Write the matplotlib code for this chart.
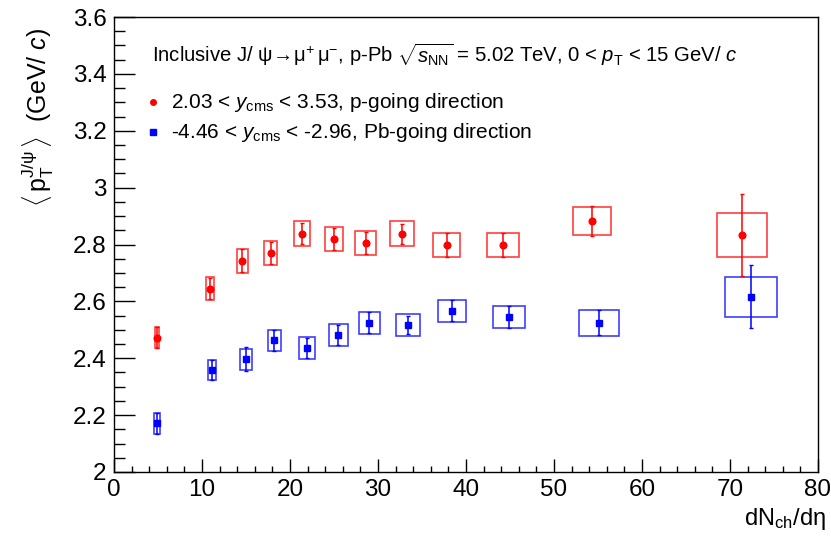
import matplotlib
matplotlib.use('Agg')
import matplotlib.pyplot as plt
from matplotlib.patches import Rectangle
from matplotlib.lines import Line2D
from matplotlib.ticker import MultipleLocator

plt.rcParams['font.family'] = ['Liberation Sans', 'DejaVu Sans']
plt.rcParams['mathtext.fontset'] = 'custom'
plt.rcParams['mathtext.rm'] = 'Liberation Sans'
plt.rcParams['mathtext.it'] = 'Liberation Sans:italic'
plt.rcParams['mathtext.bf'] = 'Liberation Sans:bold'

# ---------------- data ----------------
red_x = [4.9, 10.9, 14.6, 17.8, 21.4, 25.0, 28.6, 32.7, 37.8, 44.2, 54.3, 71.4]
red_y = [2.472, 2.645, 2.743, 2.771, 2.838, 2.819, 2.804, 2.838, 2.798, 2.798, 2.883, 2.833]
red_stat = [0.037, 0.038, 0.041, 0.038, 0.037, 0.039, 0.039, 0.035, 0.042, 0.042, 0.053, 0.145]
red_syst = [0.037, 0.039, 0.042, 0.042, 0.043, 0.042, 0.042, 0.043, 0.043, 0.043, 0.050, 0.077]
red_xerr = [0.27, 0.45, 0.59, 0.72, 0.89, 0.98, 1.16, 1.35, 1.55, 1.80, 2.18, 2.86]

blue_x = [4.9, 11.15, 15.0, 18.2, 21.9, 25.5, 29.0, 33.4, 38.4, 44.9, 55.1, 72.4]
blue_y = [2.171, 2.359, 2.396, 2.463, 2.436, 2.482, 2.525, 2.518, 2.567, 2.544, 2.525, 2.616]
blue_stat = [0.036, 0.035, 0.042, 0.038, 0.036, 0.036, 0.037, 0.031, 0.037, 0.038, 0.044, 0.111]
blue_syst = [0.036, 0.036, 0.037, 0.038, 0.038, 0.038, 0.039, 0.039, 0.039, 0.039, 0.045, 0.071]
blue_xerr = [0.32, 0.49, 0.64, 0.74, 0.89, 1.04, 1.19, 1.38, 1.59, 1.82, 2.24, 2.92]

x_ticks = [0, 10, 20, 30, 40, 50, 60, 70, 80]
y_ticks = [2.0, 2.2, 2.4, 2.6, 2.8, 3.0, 3.2, 3.4, 3.6]
y_ticklabels = ['2', '2.2', '2.4', '2.6', '2.8', '3', '3.2', '3.4', '3.6']

red_label = r'2.03 < $y_{\mathrm{cms}}$ < 3.53, p-going direction'
blue_label = r'-4.46 < $y_{\mathrm{cms}}$ < -2.96, Pb-going direction'
header = (r'Inclusive J/ $\mathrm{\psi\!\rightarrow\!\mu^{+}\,\mu^{-}}$, p-Pb '
          r'$\sqrt{s_{\mathrm{NN}}}$ = 5.02 TeV, 0 < $p_{\mathrm{T}}$ < 15 GeV/ $c$')

RED = '#ff0000'
BLUE = '#0000ff'

W, H = 831, 545
fig = plt.figure(figsize=(W / 100, H / 100), dpi=100)
fig.patch.set_facecolor('white')
ax = fig.add_axes([114 / W, 1 - 472 / H, (818 - 114) / W, (472 - 17) / H])


def px(x, y):
    return x / W, 1 - y / H


def draw_series(xs, ys, stat, syst, xerr, color, marker, ms):
    for x, y, sy, xe in zip(xs, ys, syst, xerr):
        ax.add_patch(Rectangle((x - xe, y - sy), 2 * xe, 2 * sy, fill=False,
                               edgecolor=color, lw=1.2, alpha=0.75, zorder=2))
    ax.errorbar(xs, ys, yerr=stat, fmt=marker, color=color, ms=ms,
                elinewidth=1.1, capsize=1.5, capthick=1.0, zorder=3)


draw_series(red_x, red_y, red_stat, red_syst, red_xerr, RED, 'o', 4.8)
draw_series(blue_x, blue_y, blue_stat, blue_syst, blue_xerr, BLUE, 's', 4.3)

ax.set_xlim(0, 80)
ax.set_ylim(2.0, 3.6)
ax.set_xticks(x_ticks)
ax.set_xticklabels([str(t) for t in x_ticks])
ax.set_yticks(y_ticks)
ax.set_yticklabels(y_ticklabels)
ax.xaxis.set_minor_locator(MultipleLocator(2))
ax.yaxis.set_minor_locator(MultipleLocator(0.05))
ax.tick_params(which='both', direction='in', top=False, right=False,
               labelsize=17.5, width=1.0, color='black')
ax.tick_params(axis='x', which='major', length=9.4, pad=5)
ax.tick_params(axis='x', which='minor', length=4.5)
ax.tick_params(axis='y', which='major', length=15, pad=5.5)
ax.tick_params(axis='y', which='minor', length=8)
for s in ax.spines.values():
    s.set_linewidth(1.0)

# header text
fig.text(*px(152, 62.5), header, fontsize=14.6, ha='left', va='baseline')

# legend
fig.add_artist(Line2D([153 / W], [1 - 101.7 / H], marker='o', color=RED, ms=4.0,
                      transform=fig.transFigure, linestyle='none'))
fig.add_artist(Line2D([153 / W], [1 - 131.7 / H], marker='s', color=BLUE, ms=4.0,
                      transform=fig.transFigure, linestyle='none'))
fig.text(*px(171, 108.3), red_label, fontsize=15, ha='left', va='baseline')
fig.text(*px(171, 138.3), blue_label, fontsize=15, ha='left', va='baseline')

# axis titles
fig.text(*px(38, 28), r'$\langle\,\mathrm{p}_{\mathrm{T}}^{\mathrm{J/\psi}}\,\rangle$  (GeV/ $c$)',
         fontsize=18, rotation=90, ha='center', va='top')
fig.text(*px(826, 525), r'dN$_{\mathrm{ch}}$/d$\mathrm{\eta}$', fontsize=17,
         ha='right', va='baseline')

fig.savefig('out.png', dpi=100)
